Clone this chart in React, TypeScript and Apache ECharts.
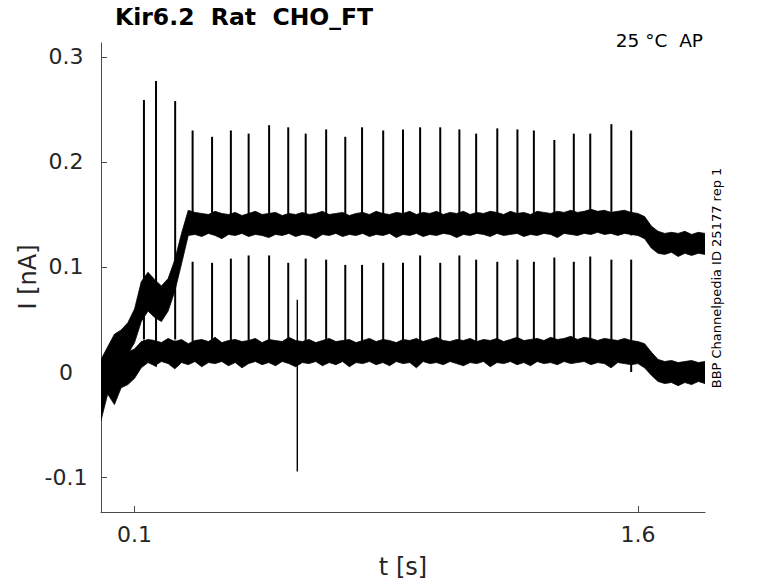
import React, { useEffect, useRef } from "react";
import * as echarts from "echarts";

const TITLE = "Kir6.2  Rat  CHO_FT";
const CONDITION = "25 °C  AP";
const SOURCE = "BBP Channelpedia ID 25177 rep 1";
const X_NAME = "t [s]";
const Y_NAME = "I [nA]";
const X_TICKS = [0.1, 1.6];
const Y_TICKS = [-0.1, 0, 0.1, 0.2, 0.3];
const X_MIN = 0;
const X_MAX = 1.8;
const Y_MIN = -0.1333;
const Y_MAX = 0.3133;

// spike times [s] shared by both sweeps
const SPIKE_T = [0.128, 0.164, 0.221, 0.273, 0.331, 0.387, 0.44, 0.501, 0.558, 0.61, 0.671, 0.728, 0.778, 0.841, 0.9, 0.951, 1.011, 1.068, 1.118, 1.181, 1.241, 1.29, 1.351, 1.409, 1.458, 1.521, 1.58];
// upper sweep spikes [nA]
const UPPER_PEAK = [0.259, 0.277, 0.258, 0.23, 0.224, 0.23, 0.227, 0.235, 0.233, 0.227, 0.231, 0.224, 0.233, 0.23, 0.231, 0.233, 0.233, 0.231, 0.227, 0.232, 0.231, 0.23, 0.221, 0.227, 0.227, 0.236, 0.23];
const UPPER_BASE = [0.031, 0.005, 0.031, 0.14, 0.141, 0.14, 0.142, 0.14, 0.141, 0.14, 0.142, 0.139, 0.141, 0.14, 0.142, 0.141, 0.14, 0.142, 0.141, 0.14, 0.142, 0.141, 0.136, 0.141, 0.142, 0.14, 0.13];
// lower sweep spikes [nA]
const LOWER_PEAK = [0.03, 0.03, 0.03, 0.105, 0.104, 0.108, 0.111, 0.111, 0.104, 0.108, 0.107, 0.102, 0.102, 0.104, 0.104, 0.111, 0.104, 0.111, 0.107, 0.105, 0.107, 0.105, 0.109, 0.105, 0.11, 0.107, 0.107];
const LOWER_BASE = [0.018, 0.018, 0.018, 0.018, 0.016, 0.018, 0.017, 0.018, 0.016, 0.018, 0.017, 0.018, 0.016, 0.018, 0.017, 0.018, 0.016, 0.018, 0.017, 0.018, 0.016, 0.018, 0.017, 0.018, 0.016, 0.015, 0.0];
// isolated artefact on the lower sweep: [t, low, high]
const ARTEFACT = [[0.585, -0.0948, 0.0688]];

// sample times [s] of the noisy band envelopes
const BAND_T = [0, 0.02, 0.04, 0.06, 0.08, 0.1, 0.12, 0.14, 0.16, 0.18, 0.2, 0.22, 0.24, 0.26, 0.28, 0.3, 0.32, 0.34, 0.36, 0.38, 0.4, 0.42, 0.44, 0.46, 0.48, 0.5, 0.52, 0.54, 0.56, 0.58, 0.6, 0.62, 0.64, 0.66, 0.68, 0.7, 0.72, 0.74, 0.76, 0.78, 0.8, 0.82, 0.84, 0.86, 0.88, 0.9, 0.92, 0.94, 0.96, 0.98, 1.0, 1.02, 1.04, 1.06, 1.08, 1.1, 1.12, 1.14, 1.16, 1.18, 1.2, 1.22, 1.24, 1.26, 1.28, 1.3, 1.32, 1.34, 1.36, 1.38, 1.4, 1.42, 1.44, 1.46, 1.48, 1.5, 1.52, 1.54, 1.56, 1.58, 1.6, 1.62, 1.64, 1.66, 1.68, 1.7, 1.72, 1.74, 1.76, 1.78, 1.8];

// lower sweep envelope [nA]
const LOWER_LO = [-0.046, -0.021, -0.031, -0.015, -0.012, -0.006, 0.004, 0.009, 0.006, 0.01, 0.008, 0.003, 0.009, 0.007, 0.01, 0.005, 0.009, 0.008, 0.01, 0.006, 0.009, 0.004, 0.008, 0.01, 0.007, 0.009, 0.006, 0.01, 0.008, 0.005, 0.009, 0.008, 0.01, 0.006, 0.009, 0.007, 0.01, 0.005, 0.009, 0.008, 0.01, 0.007, 0.009, 0.006, 0.01, 0.008, 0.009, 0.004, 0.01, 0.008, 0.009, 0.007, 0.01, 0.008, 0.006, 0.009, 0.008, 0.01, 0.005, 0.009, 0.008, 0.01, 0.007, 0.009, 0.006, 0.01, 0.008, 0.009, 0.007, 0.01, 0.008, 0.009, 0.01, 0.007, 0.009, 0.008, 0.004, 0.009, 0.008, 0.007, 0.008, 0.004, -0.003, -0.009, -0.011, -0.01, -0.013, -0.01, -0.012, -0.009, -0.011];
const LOWER_HI = [0.008, 0.014, 0.016, 0.013, 0.019, 0.022, 0.029, 0.031, 0.03, 0.028, 0.032, 0.029, 0.031, 0.027, 0.03, 0.031, 0.029, 0.033, 0.028, 0.03, 0.031, 0.029, 0.03, 0.032, 0.028, 0.031, 0.03, 0.029, 0.033, 0.03, 0.029, 0.031, 0.028, 0.03, 0.032, 0.029, 0.03, 0.031, 0.028, 0.03, 0.032, 0.029, 0.031, 0.03, 0.028, 0.031, 0.03, 0.032, 0.029, 0.031, 0.033, 0.03, 0.029, 0.031, 0.03, 0.032, 0.029, 0.031, 0.03, 0.032, 0.029, 0.031, 0.033, 0.03, 0.031, 0.032, 0.03, 0.033, 0.031, 0.032, 0.034, 0.031, 0.033, 0.032, 0.03, 0.032, 0.031, 0.03, 0.032, 0.03, 0.029, 0.027, 0.019, 0.012, 0.01, 0.011, 0.009, 0.01, 0.011, 0.009, 0.01];

// upper sweep envelope [nA]
const UPPER_LO = [-0.02, -0.008, 0.006, 0.012, 0.017, 0.028, 0.048, 0.058, 0.052, 0.048, 0.058, 0.077, 0.103, 0.13, 0.131, 0.129, 0.132, 0.13, 0.127, 0.131, 0.13, 0.132, 0.129, 0.131, 0.13, 0.128, 0.131, 0.13, 0.132, 0.129, 0.131, 0.13, 0.127, 0.131, 0.13, 0.132, 0.129, 0.131, 0.13, 0.132, 0.129, 0.131, 0.13, 0.132, 0.128, 0.131, 0.13, 0.132, 0.129, 0.131, 0.13, 0.132, 0.131, 0.128, 0.131, 0.13, 0.132, 0.131, 0.129, 0.132, 0.13, 0.131, 0.132, 0.129, 0.131, 0.13, 0.132, 0.131, 0.128, 0.132, 0.131, 0.13, 0.132, 0.131, 0.133, 0.131, 0.132, 0.13, 0.132, 0.131, 0.13, 0.127, 0.118, 0.113, 0.112, 0.114, 0.11, 0.113, 0.111, 0.113, 0.112];
const UPPER_HI = [0.012, 0.024, 0.036, 0.04, 0.047, 0.06, 0.086, 0.095, 0.088, 0.082, 0.089, 0.107, 0.132, 0.154, 0.152, 0.151, 0.15, 0.153, 0.151, 0.15, 0.152, 0.149, 0.151, 0.153, 0.15, 0.151, 0.152, 0.149, 0.151, 0.15, 0.152, 0.15, 0.151, 0.153, 0.15, 0.151, 0.152, 0.149, 0.151, 0.152, 0.15, 0.153, 0.151, 0.15, 0.152, 0.151, 0.153, 0.15, 0.152, 0.151, 0.153, 0.15, 0.152, 0.151, 0.153, 0.15, 0.152, 0.151, 0.153, 0.152, 0.15, 0.153, 0.151, 0.152, 0.15, 0.153, 0.152, 0.151, 0.153, 0.152, 0.154, 0.152, 0.153, 0.155, 0.153, 0.154, 0.152, 0.153, 0.154, 0.152, 0.151, 0.148, 0.139, 0.134, 0.132, 0.133, 0.132, 0.134, 0.131, 0.133, 0.132];

const FONT = "'DejaVu Sans', sans-serif";
const AXIS_COLOR = "#4a4a4a";
const TEXT_COLOR = "#262626";

function bandSeries(T: number[], LO: number[], HI: number[]) {
  return {
    type: "custom",
    silent: true,
    clip: true,
    data: T.map((t, i) => [t, LO[i], HI[i]]),
    encode: { x: 0, y: [1, 2] },
    renderItem: (params: any, api: any) => {
      if (params.dataIndex !== 0) return { type: "group", children: [] };
      const pts: number[][] = [];
      for (let i = 0; i < T.length; i++) pts.push(api.coord([T[i], HI[i]]));
      for (let i = T.length - 1; i >= 0; i--) pts.push(api.coord([T[i], LO[i]]));
      return {
        type: "polygon",
        shape: { points: pts },
        style: { fill: "#000", stroke: "#000", lineWidth: 0.8 },
      };
    },
  };
}

function segSeries(rows: number[][], width: number) {
  return {
    type: "custom",
    silent: true,
    clip: true,
    data: rows,
    encode: { x: 0, y: [1, 2] },
    renderItem: (_params: any, api: any) => {
      const a = api.coord([api.value(0), api.value(1)]);
      const b = api.coord([api.value(0), api.value(2)]);
      return {
        type: "line",
        shape: { x1: a[0], y1: a[1], x2: b[0], y2: b[1] },
        style: { stroke: "#000", lineWidth: width },
      };
    },
  };
}

export default function App() {
  const ref = useRef<HTMLDivElement>(null);
  useEffect(() => {
    if (!ref.current) return;
    const chart = echarts.init(ref.current, undefined, { renderer: "svg" });
    const upperSpikes = SPIKE_T.map((t, i) => [t, UPPER_BASE[i], UPPER_PEAK[i]]);
    const lowerSpikes = SPIKE_T.map((t, i) => [t, LOWER_BASE[i], LOWER_PEAK[i]]);
    chart.setOption({
      animation: false,
      backgroundColor: "#fff",
      grid: { left: 101, top: 43, width: 604, height: 469, containLabel: false },
      xAxis: {
        type: "value",
        min: X_MIN,
        max: X_MAX,
        axisLine: { show: true, onZero: false, lineStyle: { color: AXIS_COLOR, width: 1 } },
        axisTick: { show: true, inside: true, length: 6, customValues: X_TICKS, lineStyle: { color: AXIS_COLOR, width: 1 } },
        axisLabel: {
          customValues: X_TICKS,
          fontSize: 22,
          fontFamily: FONT,
          color: TEXT_COLOR,
          margin: 11,
          formatter: (v: number) => String(v),
        },
        splitLine: { show: false },
      },
      yAxis: {
        type: "value",
        min: Y_MIN,
        max: Y_MAX,
        axisLine: { show: true, onZero: false, lineStyle: { color: AXIS_COLOR, width: 1 } },
        axisTick: { show: true, inside: true, length: 6, customValues: Y_TICKS, lineStyle: { color: AXIS_COLOR, width: 1 } },
        axisLabel: {
          customValues: Y_TICKS,
          fontSize: 22,
          fontFamily: FONT,
          color: TEXT_COLOR,
          margin: 35,
          align: "center",
          formatter: (v: number) => String(v),
        },
        splitLine: { show: false },
      },
      graphic: [
        {
          type: "text",
          x: 115,
          y: 17,
          style: { text: TITLE, fontSize: 23.5, fontWeight: "bold", fontFamily: FONT, fill: "#000", align: "left", verticalAlign: "middle" },
        },
        {
          type: "text",
          x: 703,
          y: 40,
          style: { text: CONDITION, fontSize: 18.5, fontFamily: FONT, fill: "#000", align: "right", verticalAlign: "middle" },
        },
        {
          type: "text",
          x: 716,
          y: 278,
          rotation: Math.PI / 2,
          style: { text: SOURCE, fontSize: 13, fontFamily: FONT, fill: "#000", align: "center", verticalAlign: "middle" },
        },
        {
          type: "text",
          x: 403,
          y: 567,
          style: { text: X_NAME, fontSize: 24, fontFamily: FONT, fill: TEXT_COLOR, align: "center", verticalAlign: "middle" },
        },
        {
          type: "text",
          x: 28,
          y: 277,
          rotation: Math.PI / 2,
          style: { text: Y_NAME, fontSize: 24, fontFamily: FONT, fill: TEXT_COLOR, align: "center", verticalAlign: "middle" },
        },
      ],
      series: [
        bandSeries(BAND_T, LOWER_LO, LOWER_HI),
        bandSeries(BAND_T, UPPER_LO, UPPER_HI),
        segSeries(lowerSpikes, 2),
        segSeries(upperSpikes, 2),
        segSeries(ARTEFACT, 1.4),
      ],
    });
    return () => chart.dispose();
  }, []);
  return <div ref={ref} style={{ position: "fixed", left: 0, top: 0, width: 778, height: 583 }} />;
}
